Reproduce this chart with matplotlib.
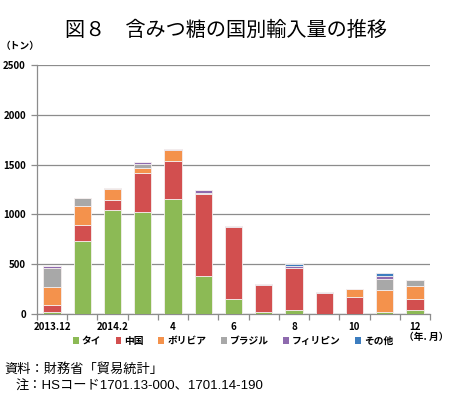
import matplotlib
matplotlib.use("Agg")
import matplotlib.pyplot as plt
from matplotlib.patches import Patch
import numpy as np

plt.rcParams['font.family'] = ['Noto Sans CJK JP', 'DejaVu Sans']

months = ["2013.12", "2014.1", "2014.2", "2014.3", "2014.4", "2014.5", "2014.6",
          "2014.7", "2014.8", "2014.9", "2014.10", "2014.11", "2014.12"]
tick_labels = ["2013.12", "", "2014.2", "", "4", "", "6", "", "8", "", "10", "", "12"]
series_names = ["タイ", "中国", "ボリビア", "ブラジル", "フィリピン", "その他"]
thai      = [20, 733, 1041, 1021, 1155, 382, 147, 20, 40, 5, 0, 20, 40]
china     = [73, 161, 107, 398, 381, 823, 730, 274, 425, 205, 174, 0, 114]
bolivia   = [174, 194, 104, 50, 107, 0, 0, 0, 0, 0, 74, 221, 127]
brazil    = [194, 80, 10, 40, 5, 5, 0, 0, 0, 0, 0, 110, 60]
phil      = [17, 0, 8, 13, 12, 35, 7, 7, 17, 13, 0, 30, 0]
others    = [0, 0, 0, 0, 0, 0, 0, 0, 20, 0, 0, 27, 0]
colors = ["#8CBA55", "#D24F4F", "#F4924C", "#A8A8A8", "#8E6AAE", "#3C7DBF"]

fig = plt.figure(figsize=(4.5, 3.96), dpi=100)
ax = fig.add_axes([37/450, 1 - 314/396, (430-37)/450, (314-65)/396])

x = np.arange(len(months))
bottom = np.zeros(len(months))
for vals, c in zip([thai, china, bolivia, brazil, phil, others], colors):
    v = np.array(vals, dtype=float)
    ax.bar(x, v, width=0.57, bottom=bottom, color=c, edgecolor="#f4eeee", linewidth=0.6, zorder=3)
    bottom += v

ax.set_xlim(-0.5, len(months) - 0.5)
ax.set_ylim(0, 2500)
ax.set_yticks(np.arange(0, 2501, 500))
ax.yaxis.grid(True, color="#8c8c8c", linewidth=0.9, zorder=0)
ax.set_axisbelow(True)

for s in ["top", "right"]:
    ax.spines[s].set_visible(False)
ax.spines["left"].set_color("#8c8c8c")
ax.spines["bottom"].set_color("#8c8c8c")
ax.spines["left"].set_linewidth(0.9)
ax.spines["bottom"].set_linewidth(0.9)

ax.set_xticks(np.arange(-0.5, len(months), 1.0))
ax.set_xticklabels([])
ax.tick_params(axis="x", which="major", length=4, color="#8c8c8c", width=0.9)
ax.set_xticks(x, minor=True)
ax.set_xticklabels(tick_labels, minor=True, fontsize=7, fontweight="bold")
ax.tick_params(axis="x", which="minor", length=0, pad=6)
ax.tick_params(axis="y", length=4, color="#8c8c8c", width=0.9, labelsize=7, pad=4)
for lbl in ax.get_yticklabels():
    lbl.set_fontweight("bold")

fig.text(226/450, 1 - 30/396, "図８　含みつ糖の国別輸入量の推移", ha="center", va="center", fontsize=14.5)
fig.text(1/450, 1 - 46/396, "（トン）", ha="left", va="center", fontsize=7, fontweight="bold")
fig.text(449/450, 1 - 337/396, "（年. 月）", ha="right", va="center", fontsize=7, fontweight="bold")

handles = [Patch(facecolor=c, edgecolor="none") for c in colors]
fig.legend(handles, series_names, loc="center", bbox_to_anchor=(233/450, 1 - 341/396), ncol=6,
           frameon=False, handlelength=0.6, handleheight=0.6, handletextpad=0.3, columnspacing=1.5,
           prop={"size": 7, "weight": "bold"})

foot_font = ['Liberation Sans', 'Noto Sans CJK JP']
fig.text(4/450, 1 - 369/396, "資料：財務省「貿易統計」", ha="left", va="center", fontsize=9.5, family=foot_font)
fig.text(16/450, 1 - 387/396, "注：HSコード1701.13-000、1701.14-190", ha="left", va="center", fontsize=9.5, family=foot_font)

fig.savefig("out.png", dpi=100)
